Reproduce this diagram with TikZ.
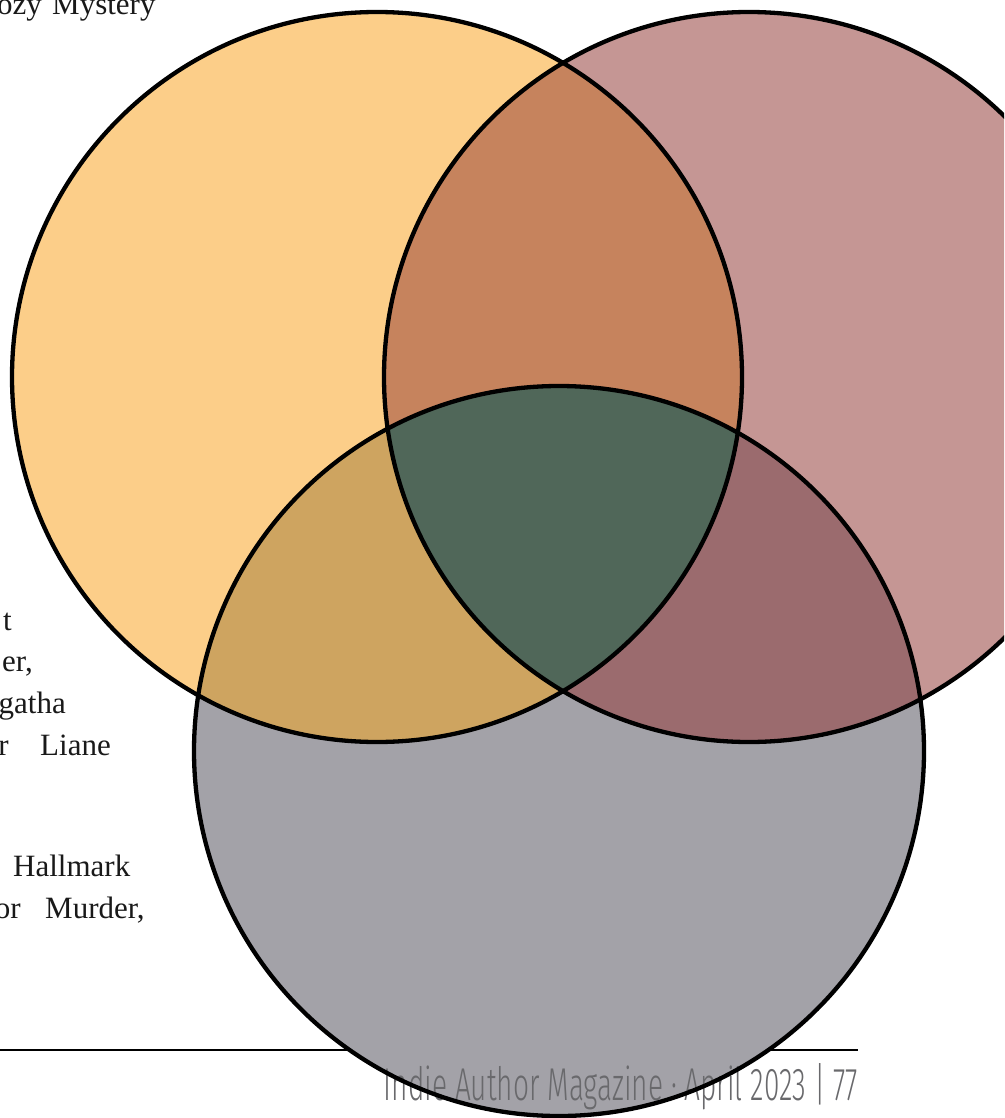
\documentclass[tikz,border=0pt]{standalone}
\usepackage{fontspec}
\setmainfont{Liberation Serif}
\IfFontExistsTF{Fira Sans Light}
  {\newfontfamily\footfont[FakeStretch=0.61]{Fira Sans Light}}
  {\newfontfamily\footfont[FakeStretch=0.61]{Fira Sans}}
\definecolor{cA}{RGB}{252,206,137}
\definecolor{cB}{RGB}{197,150,148}
\definecolor{cC}{RGB}{163,162,168}
\definecolor{cAB}{RGB}{198,131,93}
\definecolor{cAC}{RGB}{206,164,96}
\definecolor{cBC}{RGB}{155,107,110}
\definecolor{cABC}{RGB}{80,103,89}
\definecolor{foot}{RGB}{105,105,108}
\definecolor{body}{RGB}{25,25,25}
\tikzset{
  outline/.style={draw=black, line width=4.3pt},
  bodytext/.style={inner sep=0pt, text=body, font=\fontsize{31}{31}\selectfont},
  foottext/.style={inner sep=0pt, text=foot, font=\footfont\fontsize{46}{46}\selectfont},
}
\begin{document}
\begin{tikzpicture}[x=1pt,y=-1pt]
\useasboundingbox (0,0) rectangle (1004,1118);
\clip (0,0) rectangle (1004,1118);
\coordinate (A) at (377,377);
\coordinate (B) at (749,377);
\coordinate (C) at (559,751);
\coordinate (L0) at (0,1050);
\coordinate (L1) at (858,1050);
% rule under the circles
\draw[line width=1.6pt] (L0) -- (L1);
% base fills
\fill[cA] (A) circle[radius=365pt];
\fill[cB] (B) circle[radius=365pt];
\fill[cC] (C) circle[radius=365pt];
% overlaps
\begin{scope}
  \clip (A) circle[radius=365pt];
  \fill[cAB] (B) circle[radius=365pt];
\end{scope}
\begin{scope}
  \clip (A) circle[radius=365pt];
  \fill[cAC] (C) circle[radius=365pt];
\end{scope}
\begin{scope}
  \clip (B) circle[radius=365pt];
  \fill[cBC] (C) circle[radius=365pt];
\end{scope}
\begin{scope}
  \clip (A) circle[radius=365pt];
  \clip (B) circle[radius=365pt];
  \fill[cABC] (C) circle[radius=365pt];
\end{scope}
% footer
\node[foottext, anchor=base east] (foot) at (858,1100) {Indie Author Magazine · April 2023 | 77};
% outlines
\draw[outline] (A) circle[radius=365pt];
\draw[outline] (B) circle[radius=365pt];
\draw[outline] (C) circle[radius=365pt];
% clipped body text at left
\node[bodytext, anchor=base east] (t1) at (42,15) {ozy};
\node[bodytext, anchor=base west] (t2) at (52,15) {Mystery};
\node[bodytext, anchor=base east] (t3) at (12,630) {t};
\node[bodytext, anchor=base east] (t4) at (33,671) {er,};
\node[bodytext, anchor=base east] (t5) at (66,713) {gatha};
\node[bodytext, anchor=base east] (t6) at (9,755) {r};
\node[bodytext, anchor=base west] (t7) at (40,755) {Liane};
\node[bodytext, anchor=base west] (t8) at (13,876) {Hallmark};
\node[bodytext, anchor=base east] (t9) at (21,918) {or};
\node[bodytext, anchor=base west] (t10) at (45,918) {Murder,};
\end{tikzpicture}
\end{document}
